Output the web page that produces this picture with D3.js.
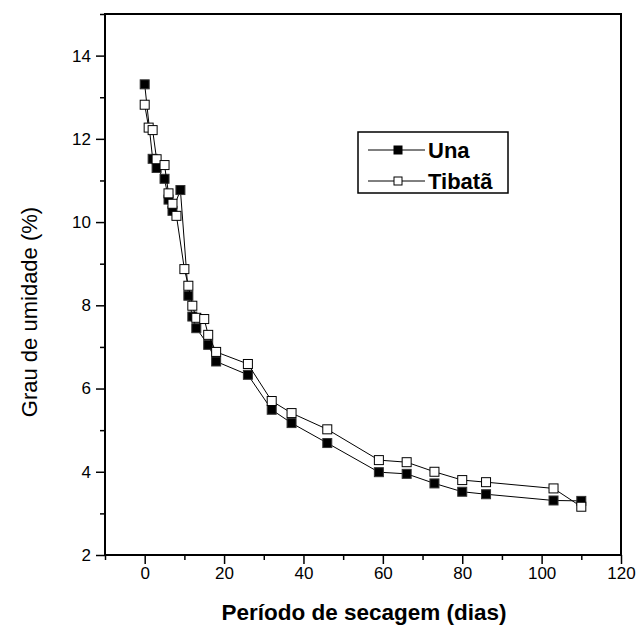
<!DOCTYPE html>
<html>
<head>
<meta charset="utf-8">
<script src="https://cdn.jsdelivr.net/npm/d3@7"></script>
<style>
  body { margin: 0; background: #fff; }
  svg { font-family: "Liberation Sans", Arial, sans-serif; }
</style>
</head>
<body>
<div id="chart"></div>
<script>
// values
const diasUna = [0, 2, 3, 5, 6, 7, 9, 11, 12, 13, 16, 18, 26, 32, 37, 46, 59, 66, 73, 80, 86, 103, 110];
const umidUna = [13.31, 11.52, 11.30, 11.04, 10.54, 10.27, 10.77, 8.23, 7.73, 7.45, 7.05, 6.65, 6.33, 5.49, 5.17, 4.69, 3.99, 3.95, 3.72, 3.52, 3.46, 3.31, 3.30];
const diasTibata = [0, 1, 2, 3, 5, 6, 7, 8, 10, 11, 12, 13, 15, 16, 18, 26, 32, 37, 46, 59, 66, 73, 80, 86, 103, 110];
const umidTibata = [12.82, 12.27, 12.21, 11.51, 11.37, 10.69, 10.44, 10.15, 8.87, 8.47, 7.99, 7.70, 7.67, 7.29, 6.88, 6.59, 5.70, 5.41, 5.02, 4.28, 4.23, 4.00, 3.80, 3.75, 3.60, 3.16];
const xTicks = [0, 20, 40, 60, 80, 100, 120];
const xMinor = [-10, 10, 30, 50, 70, 90, 110];
const yTicks = [2, 4, 6, 8, 10, 12, 14];
const yMinor = [3, 5, 7, 9, 11, 13, 15];

const series = [
  {name: "Una", fill: "#000", x: diasUna, y: umidUna},
  {name: "Tibatã", fill: "#fff", x: diasTibata, y: umidTibata}
];

const W = 639, H = 625;
const margin = {top: 14, right: 18, bottom: 70, left: 105};
const width = W - margin.left - margin.right;
const height = H - margin.top - margin.bottom;

const svg = d3.select("#chart").append("svg")
    .attr("width", W)
    .attr("height", H);
const g = svg.append("g")
    .attr("transform", "translate(" + margin.left + "," + margin.top + ")");

const x = d3.scaleLinear().domain([-10, 120]).range([0, width]);
const y = d3.scaleLinear().domain([2, 15]).range([height, 0]);

// axes
const xAxis = d3.axisBottom(x).tickValues(xTicks).tickSize(9).tickPadding(3);
const xAxisMinor = d3.axisBottom(x).tickValues(xMinor).tickSize(5).tickFormat("");
const yAxis = d3.axisLeft(y).tickValues(yTicks).tickSize(9).tickPadding(5);
const yAxisMinor = d3.axisLeft(y).tickValues(yMinor).tickSize(5).tickFormat("");

function styleAxis(sel) {
  sel.select(".domain").remove();
  sel.selectAll("line").attr("stroke", "#000").attr("stroke-width", 1.5);
  sel.selectAll("text").attr("fill", "#000").attr("font-size", 17)
     .attr("font-family", "'Liberation Sans', Arial, sans-serif");
}

g.append("g").attr("transform", "translate(0," + height + ")").call(xAxis).call(styleAxis);
g.append("g").attr("transform", "translate(0," + height + ")").call(xAxisMinor).call(styleAxis);
g.append("g").call(yAxis).call(styleAxis);
g.append("g").call(yAxisMinor).call(styleAxis);

// frame
g.append("rect")
    .attr("x", 0).attr("y", 0)
    .attr("width", width).attr("height", height)
    .attr("fill", "none")
    .attr("stroke", "#000")
    .attr("stroke-width", 2);

// lines + markers
const line = d3.line().x(d => x(d[0])).y(d => y(d[1]));
const ms = 9;

series.forEach(s => {
  const pts = s.x.map((v, i) => [v, s.y[i]]);
  g.append("path")
      .datum(pts)
      .attr("fill", "none")
      .attr("stroke", "#000")
      .attr("stroke-width", 1)
      .attr("d", line);
  g.append("g").selectAll("rect")
      .data(pts)
      .join("rect")
      .attr("x", d => x(d[0]) - ms / 2)
      .attr("y", d => y(d[1]) - ms / 2)
      .attr("width", ms)
      .attr("height", ms)
      .attr("fill", s.fill)
      .attr("stroke", s.fill === "#000" ? "#333" : "#000")
      .attr("stroke-width", 1);
});

// legend
const legend = svg.append("g").attr("transform", "translate(358,132)");
legend.append("rect")
    .attr("width", 150).attr("height", 61)
    .attr("fill", "#fff")
    .attr("stroke", "#000")
    .attr("stroke-width", 1.5);
series.forEach((s, i) => {
  const ly = 18 + i * 31;
  legend.append("line")
      .attr("x1", 10).attr("x2", 67)
      .attr("y1", ly).attr("y2", ly)
      .attr("stroke", "#000").attr("stroke-width", 1);
  legend.append("rect")
      .attr("x", 40 - 4).attr("y", ly - 4)
      .attr("width", 8).attr("height", 8)
      .attr("fill", s.fill)
      .attr("stroke", "#000").attr("stroke-width", 1);
  legend.append("text")
      .attr("x", 70).attr("y", ly + 8)
      .attr("font-size", 22)
      .attr("font-weight", "bold")
      .text(s.name);
});

// axis titles
svg.append("text")
    .attr("x", margin.left + width / 2 + 1)
    .attr("y", 620)
    .attr("text-anchor", "middle")
    .attr("font-size", 22.5)
    .attr("font-weight", "bold")
    .text("Período de secagem (dias)");

svg.append("text")
    .attr("transform", "translate(37,312) rotate(-90)")
    .attr("text-anchor", "middle")
    .attr("font-size", 22)
    .text("Grau de umidade (%)");
</script>
</body>
</html>
